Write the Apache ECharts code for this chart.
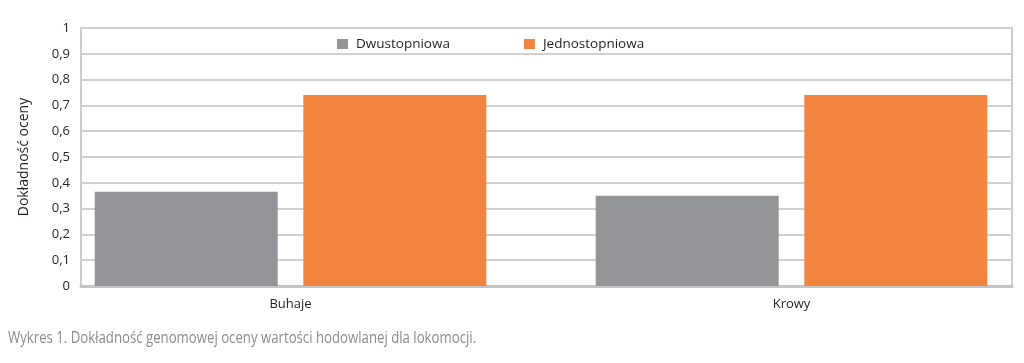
<!DOCTYPE html>
<html>
<head>
<meta charset="utf-8">
<script src="https://cdn.jsdelivr.net/npm/echarts@6/dist/echarts.min.js"></script>
<style>
html,body{margin:0;padding:0;background:#fff;}
#chart{width:1024px;height:363px;}
</style>
</head>
<body>
<div id="chart"></div>
<script>
const categories = ['Buhaje', 'Krowy'];
const seriesNames = ['Dwustopniowa', 'Jednostopniowa'];
const dwustopniowa = [0.365, 0.35];
const jednostopniowa = [0.74, 0.74];
const yTicks = [0, 0.1, 0.2, 0.3, 0.4, 0.5, 0.6, 0.7, 0.8, 0.9, 1];
const yTitle = 'Dokładność oceny';
const caption = 'Wykres 1. Dokładność genomowej oceny wartości hodowlanej dla lokomocji.';

const chart = echarts.init(document.getElementById('chart'), null, {renderer: 'canvas'});
const font = '"Open Sans", "Noto Sans", sans-serif';
const txt = '#231f20';
const catIdx = categories.map((c, i) => i);
chart.setOption({
  animation: false,
  backgroundColor: '#fff',
  color: ['#939598', '#f1843f'],
  legend: {
    data: seriesNames,
    top: 32,
    left: 332,
    icon: 'rect',
    itemWidth: 11,
    itemHeight: 10,
    itemGap: 74,
    textStyle: {fontFamily: font, fontSize: 13.5, color: txt, padding: [0, 0, 0, 3]}
  },
  graphic: [{
    type: 'text', left: 8, top: 330, scaleX: 0.8, originX: 0,
    style: {text: caption, font: '16.5px "Open Sans", "Noto Sans", sans-serif', fill: '#8a8b8d'}
  }],
  grid: [
    {left: 81, right: 12, top: 28, bottom: 77, show: true, borderColor: '#cbcccd', borderWidth: 2, containLabel: false}
  ],
  xAxis: [
    {type: 'value', min: -0.4182, max: 1.4401,
     axisLine: {show: true, onZero: false, lineStyle: {color: '#c3c4c6', width: 3}},
     axisTick: {show: false, customValues: catIdx},
     splitLine: {show: false},
     axisLabel: {margin: 12, fontFamily: font, fontSize: 13, color: txt, customValues: catIdx,
       formatter: v => categories[Math.round(v)] || ''}}
  ],
  yAxis: [
    {type: 'value', min: 0, max: 1, interval: 0.1,
     name: yTitle, nameLocation: 'middle', nameGap: 50, nameRotate: 90,
     nameTextStyle: {fontFamily: font, fontSize: 14, color: txt},
     axisLine: {show: false}, axisTick: {show: false},
     axisLabel: {margin: 11, fontFamily: font, fontSize: 13, color: txt,
       formatter: v => { const t = yTicks.find(x => Math.abs(x - v) < 1e-9); return t === undefined ? '' : String(+t.toFixed(1)).replace('.', ','); }},
     splitLine: {show: true, lineStyle: {color: '#cfd0d2', width: 2}}}
  ],
  series: [
    {name: seriesNames[0], type: 'bar', data: catIdx.map(i => [i, dwustopniowa[i]]), barWidth: 183, barGap: '14%'},
    {name: seriesNames[1], type: 'bar', data: catIdx.map(i => [i, jednostopniowa[i]]), barWidth: 183, barGap: '14%'}
  ]
});
</script>
</body>
</html>
